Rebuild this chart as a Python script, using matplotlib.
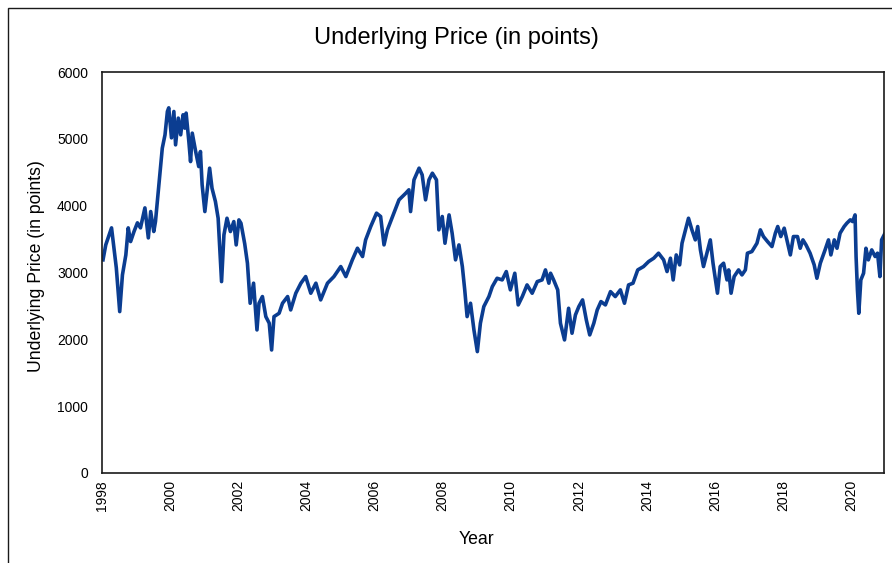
import matplotlib
matplotlib.use("Agg")
import matplotlib.pyplot as plt
from matplotlib.patches import Rectangle

plt.rcParams['font.family'] = ['Liberation Sans', 'DejaVu Sans']

years = [1998.03, 1998.11, 1998.28, 1998.42, 1998.52, 1998.60, 1998.70, 1998.77, 1998.84, 1998.94,
         1999.04, 1999.13, 1999.26, 1999.36, 1999.43, 1999.52, 1999.57, 1999.67, 1999.77, 1999.85,
         1999.92, 1999.96, 2000.04, 2000.11, 2000.16, 2000.24, 2000.31, 2000.38, 2000.43, 2000.47,
         2000.55, 2000.60, 2000.65, 2000.75, 2000.84, 2000.89, 2000.94, 2001.02, 2001.16, 2001.23,
         2001.33, 2001.41, 2001.51, 2001.58, 2001.67, 2001.77, 2001.87, 2001.94, 2002.02, 2002.08,
         2002.19, 2002.27, 2002.35, 2002.45, 2002.55, 2002.61, 2002.71, 2002.81, 2002.91, 2002.98,
         2003.05, 2003.20, 2003.30, 2003.45, 2003.54, 2003.69, 2003.84, 2003.98, 2004.13, 2004.28,
         2004.42, 2004.62, 2004.81, 2005.01, 2005.16, 2005.35, 2005.50, 2005.65, 2005.74, 2005.89,
         2006.06, 2006.18, 2006.28, 2006.38, 2006.53, 2006.72, 2006.92, 2007.01, 2007.06, 2007.16,
         2007.31, 2007.40, 2007.50, 2007.60, 2007.70, 2007.82, 2007.89, 2007.99, 2008.07, 2008.19,
         2008.28, 2008.38, 2008.48, 2008.58, 2008.65, 2008.72, 2008.82, 2008.92, 2009.02, 2009.11,
         2009.21, 2009.36, 2009.46, 2009.60, 2009.75, 2009.87, 2009.99, 2010.12, 2010.22, 2010.34,
         2010.48, 2010.63, 2010.78, 2010.92, 2011.02, 2011.12, 2011.17, 2011.26, 2011.38, 2011.46,
         2011.58, 2011.70, 2011.80, 2011.90, 2012.00, 2012.11, 2012.22, 2012.32, 2012.44, 2012.54,
         2012.65, 2012.78, 2012.93, 2013.07, 2013.22, 2013.34, 2013.46, 2013.59, 2013.73, 2013.90,
         2014.05, 2014.20, 2014.34, 2014.49, 2014.59, 2014.69, 2014.77, 2014.86, 2014.96, 2015.03,
         2015.13, 2015.22, 2015.32, 2015.42, 2015.49, 2015.57, 2015.66, 2015.76, 2015.86, 2015.94,
         2016.07, 2016.15, 2016.25, 2016.35, 2016.40, 2016.47, 2016.56, 2016.69, 2016.79, 2016.89,
         2016.95, 2017.08, 2017.23, 2017.33, 2017.42, 2017.54, 2017.67, 2017.77, 2017.84, 2017.93,
         2018.03, 2018.13, 2018.21, 2018.30, 2018.42, 2018.50, 2018.58, 2018.67, 2018.79, 2018.91,
         2018.99, 2019.09, 2019.23, 2019.33, 2019.40, 2019.50, 2019.58, 2019.67, 2019.79, 2019.87,
         2019.97, 2020.04, 2020.11, 2020.14, 2020.18, 2020.22, 2020.28, 2020.36, 2020.43, 2020.50,
         2020.60, 2020.70, 2020.77, 2020.84, 2020.89, 2020.99]

prices = [3190, 3413, 3668, 3070, 2415, 2964, 3263, 3668, 3463, 3613,
          3743, 3668, 3967, 3518, 3912, 3613, 3762, 4311, 4860, 5060,
          5409, 5464, 5015, 5409, 4910, 5310, 5060, 5360, 5160, 5385,
          4960, 4660, 5085, 4810, 4585, 4810, 4311, 3912, 4561, 4261,
          4062, 3812, 2864, 3563, 3812, 3613, 3762, 3413, 3787, 3737,
          3430, 3139, 2540, 2840, 2141, 2540, 2640, 2340, 2241, 1841,
          2340, 2390, 2540, 2640, 2440, 2690, 2840, 2939, 2690, 2840,
          2590, 2840, 2939, 3089, 2939, 3189, 3363, 3239, 3488, 3688,
          3888, 3838, 3413, 3638, 3838, 4087, 4187, 4237, 3912, 4386,
          4561, 4461, 4087, 4386, 4486, 4386, 3638, 3838, 3438, 3862,
          3588, 3189, 3413, 3089, 2740, 2340, 2540, 2141, 1816, 2241,
          2490, 2640, 2789, 2914, 2889, 3014, 2740, 2989, 2515, 2640,
          2814, 2690, 2864, 2889, 3039, 2840, 2989, 2889, 2740, 2241,
          1991, 2465, 2091, 2365, 2490, 2590, 2290, 2066, 2241, 2440,
          2565, 2515, 2714, 2640, 2740, 2540, 2814, 2840, 3039, 3089,
          3164, 3214, 3289, 3189, 3014, 3214, 2889, 3263, 3114, 3438,
          3638, 3812, 3638, 3488, 3688, 3338, 3089, 3289, 3488, 3139,
          2690, 3089, 3139, 2889, 3039, 2690, 2939, 3039, 2964, 3039,
          3289, 3313, 3438, 3638, 3538, 3463, 3388, 3588, 3688, 3538,
          3663, 3438, 3263, 3538, 3538, 3363, 3488, 3413, 3289, 3114,
          2914, 3139, 3338, 3488, 3263, 3488, 3363, 3588, 3688, 3738,
          3788, 3762, 3862, 3239, 2740, 2390, 2889, 2989, 3363, 3189,
          3338, 3239, 3289, 2939, 3488, 3588]

x_ticks = [1998, 2000, 2002, 2004, 2006, 2008, 2010, 2012, 2014, 2016, 2018, 2020]
y_ticks = [0, 1000, 2000, 3000, 4000, 5000, 6000]

W, H = 892, 563
fig = plt.figure(figsize=(W / 100, H / 100), dpi=100)
ax = fig.add_axes([102 / W, 1 - 473 / H, (884 - 102) / W, (473 - 72) / H])

ax.plot(years, prices, color='#0B3D91', lw=2.6, solid_joinstyle='round')
ax.set_xlim(1998, 2020.96)
ax.set_ylim(0, 6000)
ax.set_xticks(x_ticks)
ax.set_xticklabels([str(t) for t in x_ticks], rotation=90, fontsize=10)
ax.set_yticks(y_ticks)
ax.set_yticklabels([str(t) for t in y_ticks], fontsize=10)
ax.tick_params(axis='both', length=0)
ax.tick_params(axis='x', pad=5)
ax.tick_params(axis='y', pad=10)
for s in ax.spines.values():
    s.set_linewidth(1.2)
    s.set_color('#1a1a1a')

fig.text(456 / W, 1 - 38 / H, 'Underlying Price (in points)', ha='center', va='center', fontsize=17)
fig.text(37 / W, 1 - 266 / H, 'Underlying Price (in points)', ha='center', va='center',
         rotation=90, fontsize=12.7)
fig.text(476 / W, 1 - 540 / H, 'Year', ha='center', va='center', fontsize=12.7)

fig.patches.append(Rectangle((8 / W, -0.2), 1.3, 1.2 - 8 / H, transform=fig.transFigure,
                             fill=False, edgecolor='#1a1a1a', lw=1.0, clip_on=False))

fig.savefig('out.png', dpi=100)
